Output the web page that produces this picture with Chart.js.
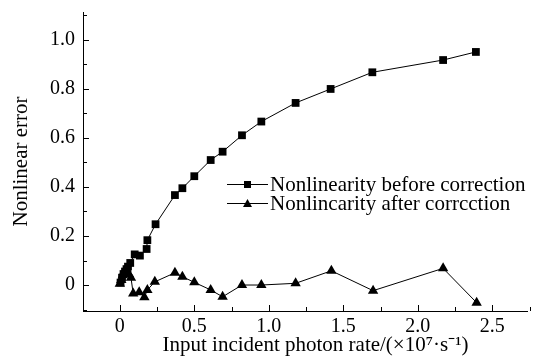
<!DOCTYPE html>
<html>
<head>
<meta charset="utf-8">
<script src="https://cdn.jsdelivr.net/npm/chart.js@4/dist/chart.umd.min.js"></script>
<style>
  html, body { margin: 0; padding: 0; background: #fff; }
</style>
</head>
<body>
<canvas id="nonlin_chart" width="533" height="356"></canvas>
<script>
// dati
var xBefore = [0.005, 0.015, 0.025, 0.035, 0.045, 0.055, 0.07, 0.1, 0.135, 0.18, 0.185, 0.24, 0.37, 0.42, 0.5, 0.61, 0.69, 0.82, 0.95, 1.18, 1.415, 1.695, 2.17, 2.39];
var yBefore = [0.01, 0.03, 0.045, 0.055, 0.065, 0.075, 0.09, 0.125, 0.12, 0.147, 0.183, 0.248, 0.367, 0.395, 0.444, 0.51, 0.544, 0.611, 0.667, 0.743, 0.8, 0.868, 0.918, 0.951];
var xAfter = [0.0, 0.01, 0.02, 0.03, 0.045, 0.06, 0.075, 0.09, 0.13, 0.165, 0.185, 0.235, 0.37, 0.42, 0.5, 0.61, 0.69, 0.82, 0.95, 1.18, 1.42, 1.7, 2.17, 2.395];
var yAfter = [0.005, 0.02, 0.04, 0.055, 0.065, 0.045, 0.03, -0.035, -0.03, -0.05, -0.02, 0.013, 0.05, 0.034, 0.011, -0.02, -0.048, 0.0, 0.0, 0.007, 0.058, -0.023, 0.068, -0.072];

var xTicks = [0, 0.5, 1.0, 1.5, 2.0, 2.5];
var xTickLabels = ["0", "0.5", "1.0", "1.5", "2.0", "2.5"];
var xMinor = [-0.25, 0.25, 0.75, 1.25, 1.75, 2.25, 2.75];
var yTicks = [0, 0.2, 0.4, 0.6, 0.8, 1.0];
var yTickLabels = ["0", "0.2", "0.4", "0.6", "0.8", "1.0"];
var yMinor = [-0.1, 0.1, 0.3, 0.5, 0.7, 0.9, 1.1];

var seriesNames = ["Nonlinearity before correction", "Nonlincarity after corrcction"];

var serif = "'Liberation Serif', 'Times New Roman', serif";

function toPoints(xs, ys) {
  return xs.map(function(x, i) { return {x: x, y: ys[i]}; });
}

// tacche interne (maggiori e minori)
var tickPlugin = {
  id: "tickMarks",
  afterDraw: function(chart) {
    var ctx = chart.ctx;
    var xs = chart.scales.x, ys = chart.scales.y;
    var area = chart.chartArea;
    ctx.save();
    ctx.strokeStyle = "#000";
    ctx.lineWidth = 1;
    ctx.beginPath();
    xTicks.forEach(function(v) {
      var p = Math.round(xs.getPixelForValue(v)) + 0.5;
      ctx.moveTo(p, area.bottom); ctx.lineTo(p, area.bottom - 6);
    });
    xMinor.forEach(function(v) {
      var p = Math.round(xs.getPixelForValue(v)) + 0.5;
      ctx.moveTo(p, area.bottom); ctx.lineTo(p, area.bottom - 4);
    });
    yTicks.forEach(function(v) {
      var p = Math.round(ys.getPixelForValue(v)) + 0.5;
      ctx.moveTo(area.left, p); ctx.lineTo(area.left + 6, p);
    });
    yMinor.forEach(function(v) {
      var p = Math.round(ys.getPixelForValue(v)) + 0.5;
      ctx.moveTo(area.left, p); ctx.lineTo(area.left + 4, p);
    });
    ctx.stroke();
    ctx.restore();
  }
};

// legenda dentro il grafico
var legendPlugin = {
  id: "innerLegend",
  afterDraw: function(chart) {
    var ctx = chart.ctx;
    var rows = [184, 203];
    ctx.save();
    ctx.fillStyle = "#000";
    ctx.strokeStyle = "#000";
    ctx.lineWidth = 1;
    ctx.font = "21px " + serif;
    ctx.textBaseline = "middle";
    rows.forEach(function(y, i) {
      ctx.beginPath();
      ctx.moveTo(227, y + 0.5); ctx.lineTo(268, y + 0.5);
      ctx.stroke();
      if (i === 0) {
        ctx.fillRect(244, y - 3, 7, 7);
      } else {
        ctx.beginPath();
        ctx.moveTo(247.5, y - 4); ctx.lineTo(252, y + 4); ctx.lineTo(243, y + 4);
        ctx.closePath(); ctx.fill();
      }
      ctx.fillText(seriesNames[i], 270, y + 1);
    });
    ctx.restore();
  }
};

var ctxChart = document.getElementById("nonlin_chart");
var nonlinChart = new Chart(ctxChart, {
  type: "scatter",
  data: {
    datasets: [
      {
        label: seriesNames[0],
        data: toPoints(xBefore, yBefore),
        showLine: true,
        borderColor: "#000",
        backgroundColor: "#000",
        borderWidth: 1,
        pointStyle: "rect",
        pointRadius: 5.5,
        pointBorderWidth: 0
      },
      {
        label: seriesNames[1],
        data: toPoints(xAfter, yAfter),
        showLine: true,
        borderColor: "#000",
        backgroundColor: "#000",
        borderWidth: 1,
        pointStyle: "triangle",
        pointRadius: 6,
        pointBorderWidth: 0
      }
    ]
  },
  options: {
    responsive: false,
    animation: false,
    layout: { padding: { left: 0, top: 12, right: 3, bottom: 0 } },
    plugins: {
      legend: { display: false },
      tooltip: { enabled: false }
    },
    scales: {
      x: {
        type: "linear",
        min: -0.247,
        max: 2.733,
        grid: { display: false, drawTicks: false },
        border: { display: true, color: "#000", width: 1 },
        afterBuildTicks: function(s) { s.ticks = xTicks.map(function(v) { return {value: v}; }); },
        afterFit: function(s) { s.height = 45; s.paddingLeft = 0; s.paddingRight = 0; },
        ticks: {
          color: "#000",
          padding: 4,
          maxRotation: 0,
          font: { family: serif, size: 20 },
          callback: function(v, i) { return xTickLabels[i]; }
        },
        title: {
          display: true,
          text: "    Input incident photon rate/(×10⁷·s⁻¹)",
          color: "#000",
          padding: { top: 0, bottom: 0 },
          font: { family: serif, size: 21, lineHeight: 1 }
        }
      },
      y: {
        type: "linear",
        min: -0.106,
        max: 1.114,
        grid: { display: false, drawTicks: false },
        border: { display: true, color: "#000", width: 1 },
        afterBuildTicks: function(s) { s.ticks = yTicks.map(function(v) { return {value: v}; }); },
        afterFit: function(s) { s.width = 83; s.paddingTop = 0; s.paddingBottom = 0; },
        ticks: {
          color: "#000",
          padding: 8,
          font: { family: serif, size: 20 },
          callback: function(v, i) { return yTickLabels[i]; }
        },
        title: {
          display: true,
          text: "Nonlinear error",
          color: "#000",
          padding: { top: 11, bottom: 0 },
          font: { family: serif, size: 21, lineHeight: 1 }
        }
      }
    }
  },
  plugins: [tickPlugin, legendPlugin]
});
</script>
</body>
</html>
